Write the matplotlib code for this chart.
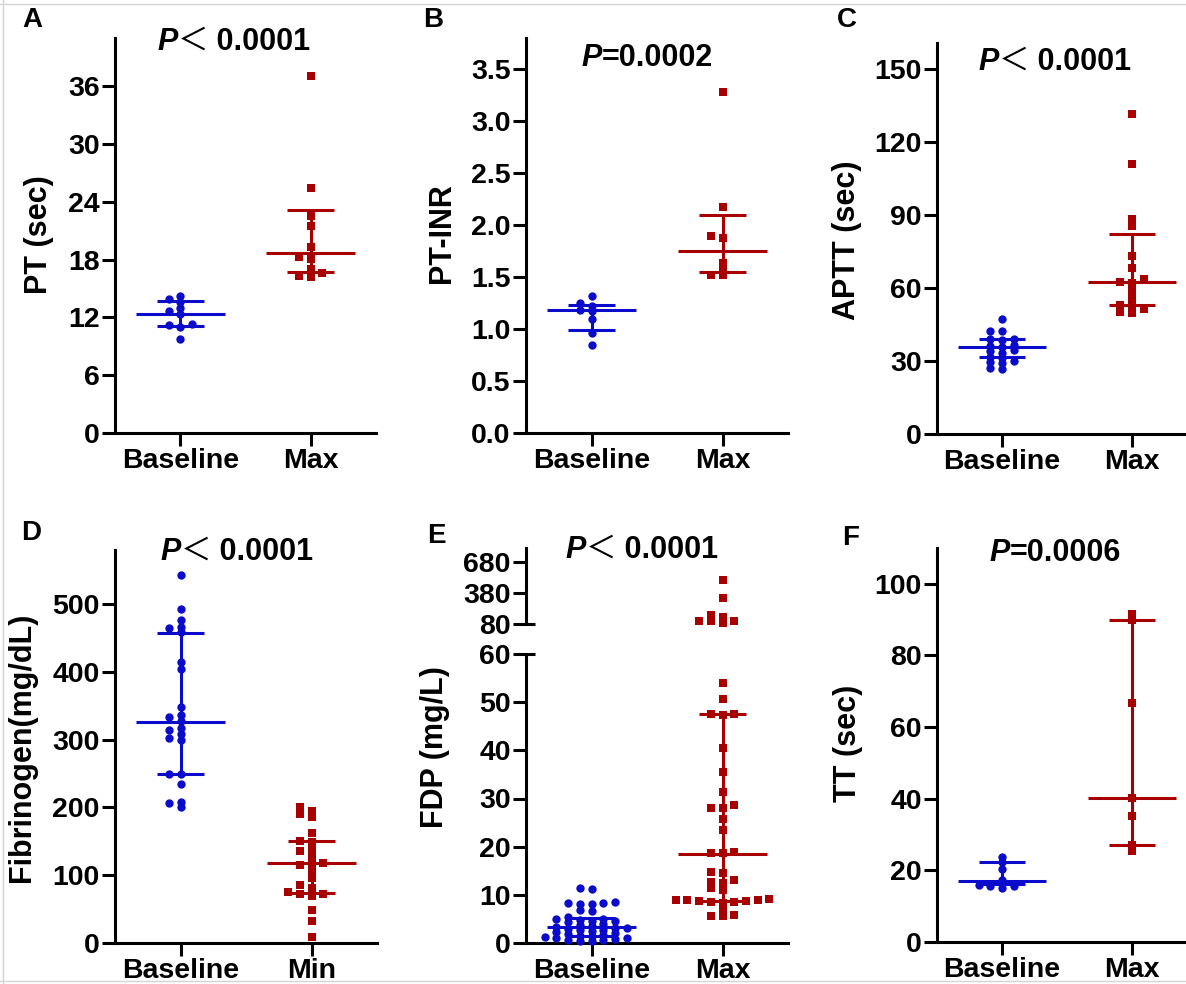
"""
Coagulation panel: baseline vs peak (or trough) values for six lab tests,
drawn GraphPad-style (scatter + median with interquartile range).
"""

import numpy as np
import matplotlib
matplotlib.use("Agg")
import matplotlib.pyplot as plt
from matplotlib.lines import Line2D

plt.rcParams["font.family"] = ["Liberation Sans", "DejaVu Sans"]
plt.rcParams["font.weight"] = "bold"

W, H = 1186, 984          # output size in pixels (dpi 100)
BLUE = "#0B0BCC"
RED = "#A80000"

# --- values ---
PT_BASE = [14.2, 13.9, 13.6, 13.0, 12.7, 12.4, 11.3, 11.2, 11.0, 9.8]
PT_MAX = [37.1, 25.4, 22.5, 21.5, 19.3, 18.3, 18.1, 17.0, 16.6, 16.3, 16.2]

INR_BASE = [1.32, 1.25, 1.22, 1.18, 1.17, 1.10, 0.96, 0.85]
INR_MAX = [3.28, 2.17, 1.90, 1.88, 1.64, 1.59, 1.52, 1.52]

APTT_BASE = [47.2, 42.4, 42.2, 39.2, 39.0, 38.6, 36.5, 36.0, 35.7, 34.5,
             34.0, 33.2, 31.5, 31.2, 29.8, 29.4, 29.0, 27.0, 26.8]
APTT_MAX = [131.7, 111.1, 88.5, 85.3, 73.0, 68.4, 63.5, 62.5, 62.0, 59.3,
            55.8, 53.2, 52.8, 51.2, 50.2, 49.8]

FIB_BASE = [543, 493, 476, 467, 465, 459, 414, 405, 348, 336, 334, 328,
            318, 314, 308, 303, 300, 250, 249, 234, 208, 207, 201]
FIB_MIN = [201, 195, 190, 186, 163, 150, 149, 142, 136, 133, 125, 118, 115,
           112, 105, 96, 86, 81, 75, 73, 72, 70, 49, 32, 9]

FDP_BASE = [11.4, 11.2, 8.5, 8.3, 8.4, 8.2, 8.0, 6.8, 6.6, 5.3, 5.0, 5.0,
            4.8, 4.6, 4.5, 4.3, 4.0, 3.8, 3.6, 3.4, 3.2, 3.2, 3.0, 2.8, 2.6,
            2.5, 2.3, 2.0, 1.8, 1.6, 1.5, 1.4, 1.2, 1.0, 1.0, 0.8, 0.7, 0.6,
            0.5, 0.4]
FDP_MAX = [506, 332, 163, 148, 112, 105, 105, 90, 54.0, 50.7, 47.6, 47.5,
           47.4, 40.5, 35.6, 31.4, 28.7, 28.0, 28.0, 25.8, 23.5, 18.8, 18.7,
           18.6, 14.8, 14.5, 13.1, 12.7, 12.5, 11.4, 11.0, 9.2, 9.0, 8.9, 8.9,
           8.8, 8.7, 8.6, 8.5, 8.4, 6.9, 5.8, 5.7, 5.6]

TT_BASE = [23.8, 22.4, 20.3, 17.3, 16.0, 15.6, 15.6, 15.0]
TT_MAX = [91.7, 90.0, 66.7, 40.1, 35.2, 27.0, 25.4]

# (median, Q1, Q3) as drawn for [baseline, comparison]
PT_STATS = [(12.4, 11.1, 13.7), (18.7, 16.7, 23.1)]
INR_STATS = [(1.18, 0.99, 1.23), (1.755, 1.545, 2.10)]
APTT_STATS = [(35.7, 31.6, 39.0), (62.3, 53.1, 82.3)]
FIB_STATS = [(326.5, 249.5, 457), (118, 74, 150)]
FDP_STATS = [(3.3, 1.5, 5.2), (18.5, 8.7, 47.6)]
TT_STATS = [(17.1, 16.1, 22.4), (40.1, 27.0, 90.0)]

P_VALUES = ["< 0.0001", "=0.0002", "< 0.0001", "< 0.0001", "< 0.0001", "=0.0006"]
GROUPS_MAX = ["Baseline", "Max"]
GROUPS_MIN = ["Baseline", "Min"]

LW = 2.2
TICK_FS = 20.5


def rect(left, top, right, bottom):
    """Pixel box -> figure fraction rect."""
    return [left / W, 1 - bottom / H, (right - left) / W, (bottom - top) / H]


def style(ax, ylim, yticks, labels, fmt="{:g}"):
    ax.set_xlim(-0.5, 1.5)
    ax.set_ylim(*ylim)
    for s in ("top", "right"):
        ax.spines[s].set_visible(False)
    for s in ("left", "bottom"):
        ax.spines[s].set_linewidth(LW)
    ax.set_xticks([0, 1], labels)
    ax.set_yticks(yticks, [fmt.format(v) for v in yticks])
    ax.tick_params(length=9.5, width=LW, labelsize=TICK_FS, pad=1.5)
    ax.patch.set_alpha(0)


def swarm(ax, values, center, gap_px=11.7, min_px=4.6):
    """Beeswarm offsets on discrete columns, computed in pixel space."""
    vals = np.asarray(values, float)
    ys = ax.transData.transform(np.column_stack([np.zeros_like(vals), vals]))[:, 1]
    px_unit = ax.transData.transform([[1, 0]])[0, 0] - ax.transData.transform([[0, 0]])[0, 0]
    cols = {}
    xs = np.zeros_like(vals)
    for i in np.argsort(vals):
        k = 0
        for step in range(40):
            k = (step + 1) // 2 * (-1 if step % 2 else 1)
            if all(abs(ys[i] - y) >= min_px for y in cols.get(k, [])):
                break
        cols.setdefault(k, []).append(ys[i])
        xs[i] = k * gap_px
    return center + xs / px_unit


def draw_points(ax, x, values, color, marker):
    if not len(values):
        return
    size = 36 if marker == "o" else 28
    ax.scatter(swarm(ax, values, x), values, s=size, marker=marker, color=color,
               linewidths=0, zorder=3, clip_on=False)


def draw_stats(ax, x, stats, color):
    med, q1, q3 = stats
    kw = dict(color=color, lw=LW, solid_capstyle="butt", zorder=2)
    ax.plot([x - 0.34, x + 0.34], [med, med], **kw)
    ax.plot([x, x], [q1, q3], **kw)
    for q in (q1, q3):
        ax.plot([x - 0.18, x + 0.18], [q, q], **kw)


def p_label(fig, cx, cy, text):
    """Italic P followed by the relation and value, centred on (cx, cy) px."""
    y = 1 - (cy + 11) / H
    fs = 22
    pieces = [fig.text(0, y, "P", style="italic", fontsize=fs, va="baseline")]
    if text.startswith("<"):
        pieces.append(fig.text(0, y, "\uff1c", fontsize=fs, va="baseline",
                               family=["Noto Sans CJK SC"], weight="normal"))
        pieces.append(fig.text(0, y, text[1:], fontsize=fs, va="baseline"))
    else:
        pieces.append(fig.text(0, y, text, fontsize=fs, va="baseline"))
    r = fig.canvas.get_renderer()
    widths = [t.get_window_extent(r).width for t in pieces]
    x = cx - sum(widths) / 2
    for t, w in zip(pieces, widths):
        t.set_x(x / W)
        x += w


def simple_panel(fig, box, ylim, yticks, fmt, groups, base, comp, stats):
    ax = fig.add_axes(rect(*box))
    style(ax, ylim, yticks, groups, fmt)
    draw_stats(ax, 0, stats[0], BLUE)
    draw_stats(ax, 1, stats[1], RED)
    draw_points(ax, 0, base, BLUE, "o")
    draw_points(ax, 1, comp, RED, "s")
    return ax


fig = plt.figure(figsize=(W / 100, H / 100), dpi=100)

simple_panel(fig, (115, 38, 376, 433), (0, 41), list(range(0, 37, 6)), "{:g}",
             GROUPS_MAX, PT_BASE, PT_MAX, PT_STATS)
simple_panel(fig, (526, 38, 788, 433), (0, 3.8), list(np.arange(0, 3.6, 0.5)), "{:.1f}",
             GROUPS_MAX, INR_BASE, INR_MAX, INR_STATS)
simple_panel(fig, (937, 43, 1197, 434), (0, 160.7), list(range(0, 151, 30)), "{:g}",
             GROUPS_MAX, APTT_BASE, APTT_MAX, APTT_STATS)
simple_panel(fig, (115, 550, 377, 943), (0, 580), list(range(0, 501, 100)), "{:g}",
             GROUPS_MIN, FIB_BASE, FIB_MIN, FIB_STATS)
simple_panel(fig, (937, 548, 1197, 942), (0, 110), list(range(0, 101, 20)), "{:g}",
             GROUPS_MAX, TT_BASE, TT_MAX, TT_STATS)

# --- E: broken y axis (0-60 below, 80-810 above) ---
axl = fig.add_axes(rect(526, 654, 788, 943))
style(axl, (0, 60), list(range(0, 61, 10)), GROUPS_MAX)
axu = fig.add_axes(rect(526, 548, 788, 624))
style(axu, (80, 810), [80, 380, 680], GROUPS_MAX)
axu.spines["bottom"].set_visible(False)
axu.set_xticks([])
for ax, yb in ((axl, 1), (axu, 0)):
    ax.plot([0, 0.035], [yb, yb], transform=ax.transAxes, color="black",
            lw=LW, solid_capstyle="butt", clip_on=False)

fdp_max = np.asarray(FDP_MAX)
draw_stats(axl, 0, FDP_STATS[0], BLUE)
draw_stats(axl, 1, FDP_STATS[1], RED)
draw_points(axl, 0, FDP_BASE, BLUE, "o")
draw_points(axl, 1, fdp_max[fdp_max <= 60], RED, "s")
draw_points(axu, 1, fdp_max[fdp_max > 60], RED, "s")

# --- y labels, panel letters, P values (pixel positions) ---
ylabels = [("PT (sec)", 39, 235), ("PT-INR", 442, 233), ("APTT (sec)", 847, 240),
           ("Fibrinogen(mg/dL)", 22, 747), ("FDP (mg/L)", 435, 747), ("TT (sec)", 848, 743)]
for text, x, y in ylabels:
    fig.text(x / W, 1 - y / H, text, rotation=90, ha="center", va="center", fontsize=22)

letters = [("A", 32, 20), ("B", 433, 20), ("C", 847, 20),
           ("D", 31, 533), ("E", 436, 536), ("F", 851, 538)]
for text, x, y in letters:
    fig.text(x / W, 1 - y / H, text, ha="center", va="center", fontsize=20)

p_pos = [(234, 39), (647, 55), (1055, 59), (237, 549), (642, 547), (1055, 550)]
for text, (x, y) in zip(P_VALUES, p_pos):
    p_label(fig, x, y, text)

# faint border of the original scan
for xs, ys in (([0, W], [4, 4]), ([3, 3], [0, H]), ([0, W], [981, 981])):
    fig.add_artist(Line2D(np.array(xs) / W, 1 - np.array(ys) / H, color="#d4d4d4", lw=1))

fig.savefig("out.png", dpi=100)
